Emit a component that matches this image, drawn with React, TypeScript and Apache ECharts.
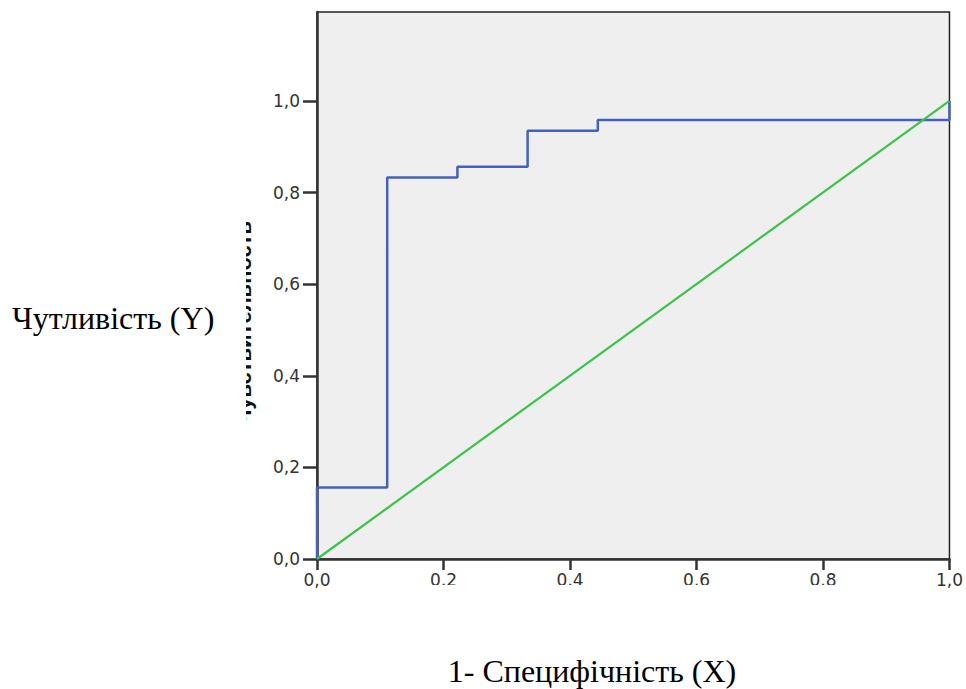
import React, { useEffect, useRef } from "react";
import * as echarts from "echarts";

// ROC curve points (1 - specificity, sensitivity)
const fpr = [0, 0, 0.111, 0.111, 0.222, 0.222, 0.333, 0.333, 0.444, 0.444, 1.0, 1.0];
const tpr = [0, 0.156, 0.156, 0.833, 0.833, 0.856, 0.856, 0.935, 0.935, 0.958, 0.958, 1.0];
// Reference diagonal
const diagX = [0, 1];
const diagY = [0, 1];

const yLabel = "Чутливість (Y)";
const xLabel = "1- Специфічність (X)";
const hiddenTitle = "Чувствительность";

export default function App() {
  const ref = useRef<HTMLDivElement>(null);
  useEffect(() => {
    if (!ref.current) return;
    const chart = echarts.init(ref.current, null, { renderer: "svg" });
    const fmt = (v: number) => v.toFixed(1).replace(".", ",");
    chart.setOption({
      animation: false,
      backgroundColor: "#ffffff",
      grid: {
        left: 317,
        top: 12,
        right: 14,
        bottom: 130,
        show: true,
        backgroundColor: "#efefef",
        borderColor: "#222222",
        borderWidth: 1.5,
      },
      xAxis: {
        type: "value",
        min: 0,
        max: 1,
        interval: 0.2,
        splitLine: { show: false },
        axisLine: { show: true, onZero: false, lineStyle: { color: "#333333", width: 2.5 } },
        axisTick: { show: true, length: 11, lineStyle: { color: "#333333", width: 2.5 } },
        axisLabel: {
          margin: 12,
          fontSize: 17,
          fontFamily: "DejaVu Sans, Verdana, sans-serif",
          color: "#333333",
          formatter: fmt,
          showMaxLabel: true,
          showMinLabel: true,
        },
      },
      yAxis: {
        type: "value",
        min: 0,
        max: 1.194,
        interval: 0.2,
        splitLine: { show: false },
        axisLine: { show: true, onZero: false, lineStyle: { color: "#333333", width: 2.5 } },
        axisTick: { show: true, length: 14, lineStyle: { color: "#333333", width: 2.5 } },
        axisLabel: {
          margin: 17,
          fontSize: 17,
          fontFamily: "DejaVu Sans, Verdana, sans-serif",
          color: "#333333",
          formatter: fmt,
          showMaxLabel: false,
        },
      },
      series: [
        {
          type: "line",
          data: diagX.map((x, i) => [x, diagY[i]]),
          symbol: "none",
          lineStyle: { color: "#3cc34a", width: 2.2 },
          z: 3,
        },
        {
          type: "line",
          data: fpr.map((x, i) => [x, tpr[i]]),
          symbol: "none",
          lineStyle: { color: "#4361bd", width: 2.5 },
          z: 2,
        },
      ],
      graphic: [
        {
          type: "text",
          x: 243,
          y: 323,
          rotation: Math.PI / 2,
          style: {
            text: hiddenTitle,
            font: "bold 22px 'Liberation Sans', Arial, sans-serif",
            fill: "#111111",
            align: "center",
            verticalAlign: "middle",
          },
          z: 10,
        },
        {
          type: "rect",
          shape: { x: 214, y: 190, width: 32, height: 260 },
          style: { fill: "#ffffff" },
          z: 11,
        },
        {
          type: "rect",
          shape: { x: 337, y: 585, width: 597, height: 50 },
          style: { fill: "#ffffff" },
          z: 11,
        },
        {
          type: "text",
          x: 12,
          y: 318,
          style: {
            text: yLabel,
            font: "32px 'Liberation Serif', 'Times New Roman', serif",
            fill: "#000000",
            align: "left",
            verticalAlign: "middle",
          },
          z: 12,
        },
        {
          type: "text",
          x: 592,
          y: 671,
          style: {
            text: xLabel,
            font: "32px 'Liberation Serif', 'Times New Roman', serif",
            fill: "#000000",
            align: "center",
            verticalAlign: "middle",
          },
          z: 12,
        },
      ],
    });
    return () => chart.dispose();
  }, []);
  return (
    <div
      ref={ref}
      style={{ position: "absolute", left: 0, top: 0, width: 966, height: 689 }}
    />
  );
}
